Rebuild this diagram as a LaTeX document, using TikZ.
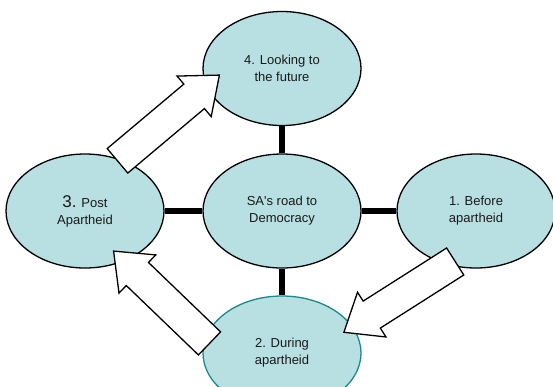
\documentclass[tikz,border=0pt]{standalone}
\usepackage{fontspec}
\setmainfont{Liberation Sans}
\usetikzlibrary{shapes.geometric,calc}
\definecolor{fillc}{HTML}{B8DFE1}
\definecolor{tealc}{HTML}{1A8A8A}
\definecolor{textc}{HTML}{1A1A1A}
\newcommand{\blockarrowdraw}[2]{%
  \coordinate (#1n) at ($(#2)!33pt!(#1)$);
  \draw[blockarr]
    ($(#1)!16pt!90:(#2)$) --
    ($(#1n)!16pt!90:(#2)$) --
    ($(#1n)!26.5pt!90:(#2)$) --
    (#2) --
    ($(#1n)!26.5pt!-90:(#2)$) --
    ($(#1n)!16pt!-90:(#2)$) --
    ($(#1)!16pt!-90:(#2)$) -- cycle;
}
\begin{document}
\begin{tikzpicture}[x=1pt,y=-1pt,
  bubble/.style={ellipse, draw=black, line width=1.3pt, fill=fillc,
    minimum width=158pt, minimum height=114pt, inner sep=0pt, align=center,
    font=\fontsize{13}{17}\selectfont, text=textc},
  link/.style={line width=5.5pt, draw=black},
  blockarr/.style={draw=black, fill=white, line width=1.3pt, line join=miter}]
\clip (0,0) rectangle (553,386);
\node[bubble] (fut) at (282,68.5) {4. Looking to\\the future};
\node[bubble] (sa) at (282,211) {SA\textquotesingle s road to\\Democracy};
\node[bubble] (post) at (85,211) {{\fontsize{17}{17}\selectfont 3.} Post\\Apartheid};
\node[bubble] (bef) at (476,211) {1. Before\\apartheid};
\node[bubble, draw=tealc] (dur) at (282,353) {2. During\\apartheid};
\draw[link] (sa) -- (fut);
\draw[link] (sa) -- (post);
\draw[link] (sa) -- (bef);
\draw[link] (sa) -- (dur);
\coordinate (s1) at (455.2,261.5);
\coordinate (e1) at (343.9,332.3);
\coordinate (s2) at (209.5,343.4);
\coordinate (e2) at (113.6,251.1);
\coordinate (s3) at (117.5,160.8);
\coordinate (e3) at (219.4,75.1);
\blockarrowdraw{s1}{e1}
\blockarrowdraw{s2}{e2}
\blockarrowdraw{s3}{e3}
\end{tikzpicture}
\end{document}
